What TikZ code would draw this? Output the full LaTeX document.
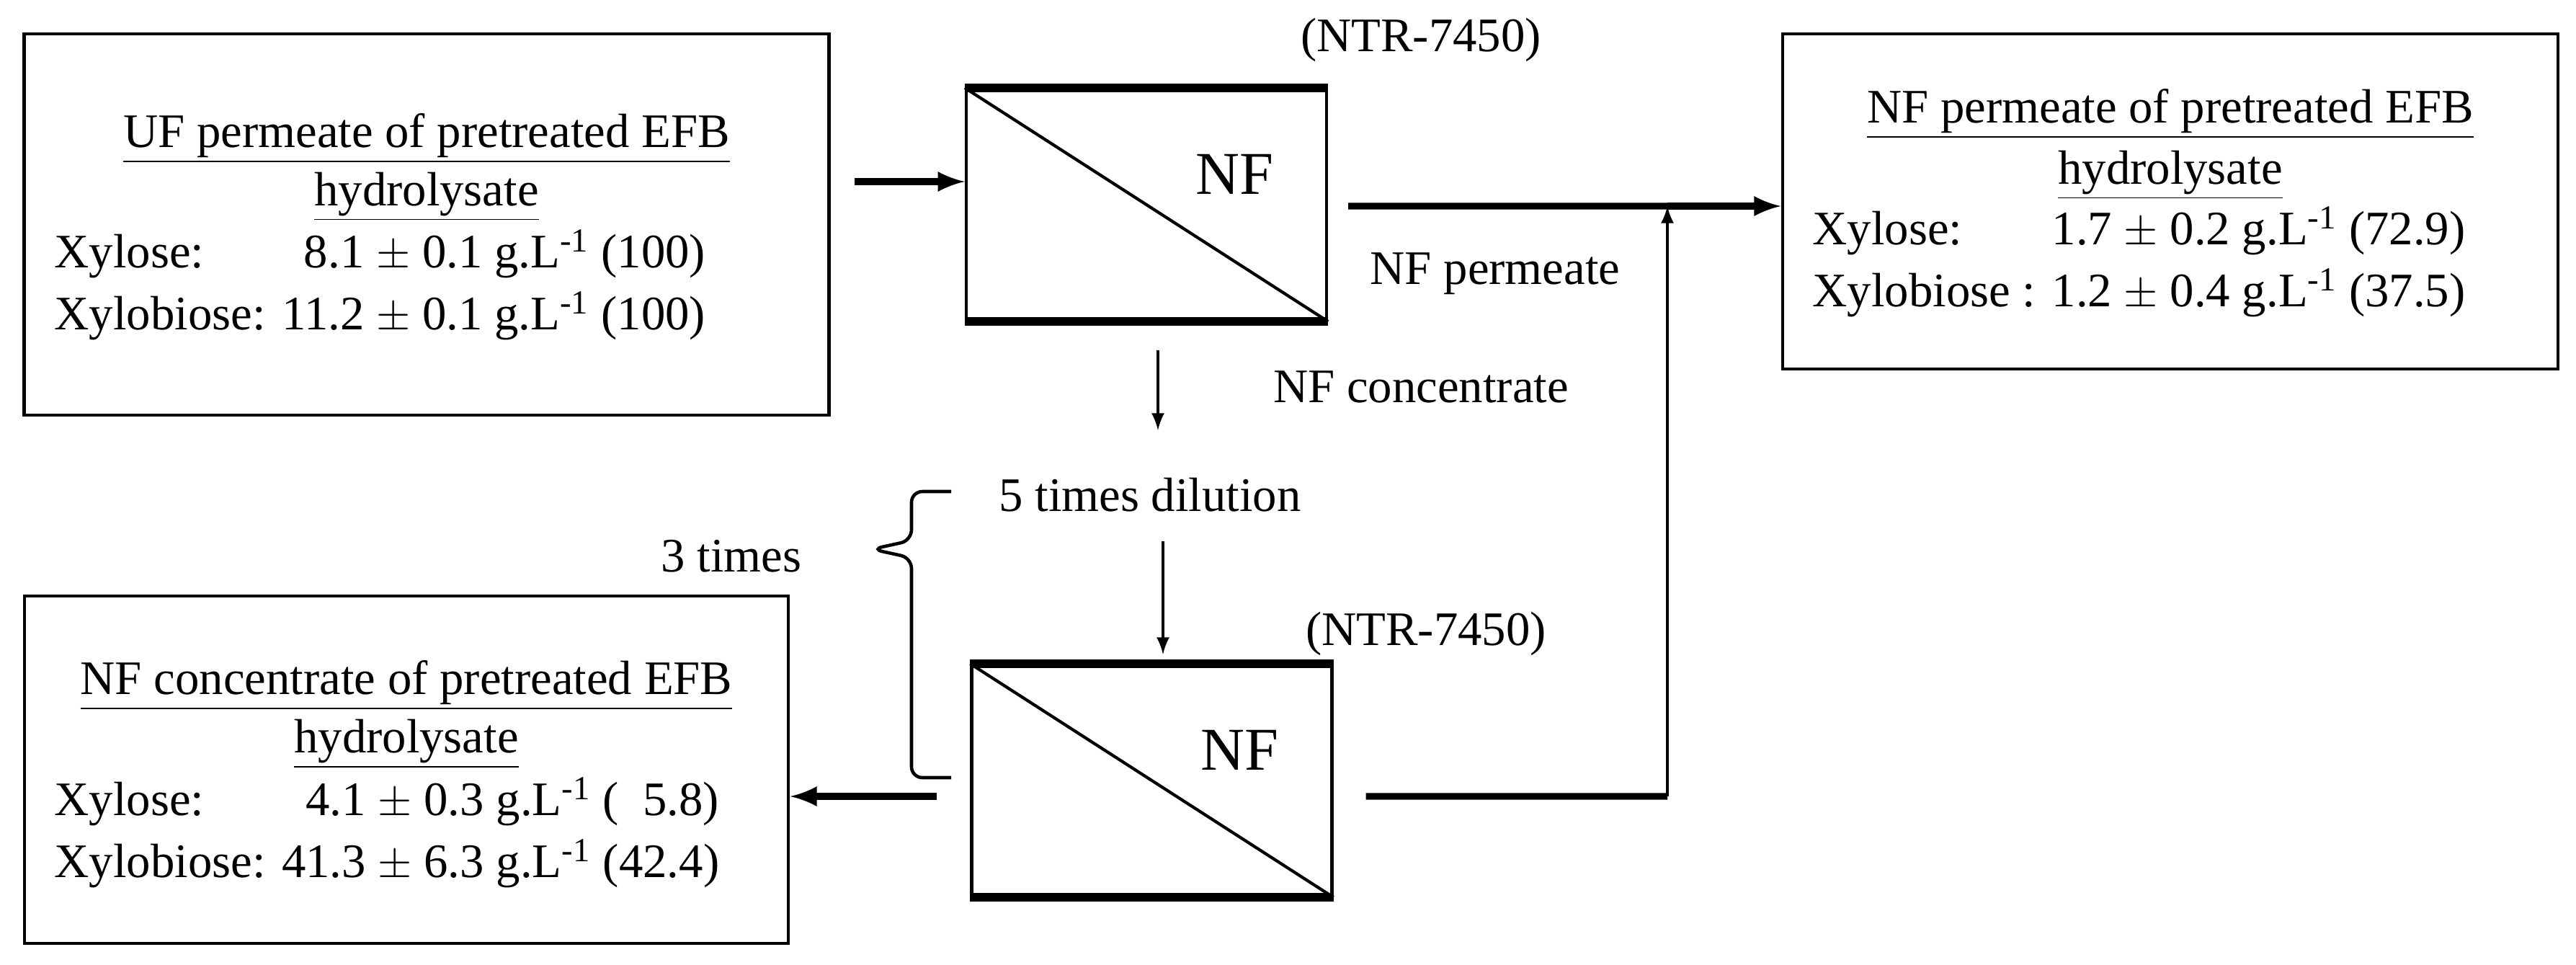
\documentclass[tikz,border=0pt]{standalone}
\usepackage{fontspec}
\setmainfont{Liberation Serif}
\usetikzlibrary{positioning}
\tikzset{
  box/.style={draw,line width=1.4pt,inner sep=0pt},
  nfbox/.style={draw,line width=1.2pt,minimum width=5cm,minimum height=3.2cm,inner sep=0pt},
  txt/.style={font=\fontsize{19}{23}\selectfont,inner sep=0pt},
  flow/.style={line width=2.6pt,-latex},
  thin flow/.style={line width=1.3pt,-latex},
}
\newcommand{\gl}{g.L\textsuperscript{-1}}
\begin{document}
\begin{tikzpicture}
\useasboundingbox (0,0) rectangle (35.75,-13.38);

  %% boxes
  \node[box,minimum width=11.17cm,minimum height=5.29cm] (uf) at (5.92,-3.115) {};
  \node[box,minimum width=10.76cm,minimum height=4.65cm] (perm) at (30.12,-2.795) {};
  \node[box,minimum width=10.6cm,minimum height=4.82cm] (conc) at (5.64,-10.68) {};

  %% uf box text
  \node[txt] (ufh) at (5.92,-1.92) {\underline{UF permeate of pretreated EFB}};
  \node[txt] (ufh2) at (5.92,-2.73) {\underline{hydrolysate}};
  \node[txt,anchor=west] (ufd) at (0.75,-3.985) {\begin{tabular}{@{}l@{ }r@{}}
    Xylose: & 8.1 $\pm$ 0.1 \gl{} (100)\\[0.05cm]
    Xylobiose: & 11.2 $\pm$ 0.1 \gl{} (100)\end{tabular}};

  %% permeate box text
  \node[txt] (ph) at (30.12,-1.58) {\underline{NF permeate of pretreated EFB}};
  \node[txt] (ph2) at (30.12,-2.43) {\underline{hydrolysate}};
  \node[txt,anchor=west] (pd) at (25.15,-3.665) {\begin{tabular}{@{}l@{ }r@{}}
    Xylose: & 1.7 $\pm$ 0.2 \gl{} (72.9)\\[0.05cm]
    Xylobiose & : 1.2 $\pm$ 0.4 \gl{} (37.5)\end{tabular}};

  %% concentrate box text
  \node[txt] (ch) at (5.64,-9.51) {\underline{NF concentrate of pretreated EFB}};
  \node[txt] (ch2) at (5.64,-10.32) {\underline{hydrolysate}};
  \node[txt,anchor=west] (cd) at (0.75,-11.585) {\begin{tabular}{@{}l@{ }r@{}}
    Xylose: & 4.1 $\pm$ 0.3 \gl{} (\ \ 5.8)\\[0.05cm]
    Xylobiose: & 41.3 $\pm$ 6.3 \gl{} (42.4)\end{tabular}};

  %% NF membranes
  \node[nfbox] (nf1) at (15.91,-2.84) {};
  \node[nfbox] (nf2) at (15.985,-10.83) {};
  \foreach \m in {nf1,nf2} {
    \draw[line width=3.5pt] (\m.north west) -- (\m.north east);
    \draw[line width=3.5pt] (\m.south west) -- (\m.south east);
    \draw[line width=1.2pt] (\m.north west) -- (\m.south east);
    \node[txt,font=\fontsize{24}{28}\selectfont] at ([xshift=-1.3cm,yshift=-1.2cm]\m.north east) {NF};
  }
  \node[txt] (ntr1) at (19.72,-0.55) {(NTR-7450)};
  \node[txt] (ntr2) at (19.79,-8.79) {(NTR-7450)};

  %% labels
  \node[txt] (lperm) at (20.75,-3.8) {NF permeate};
  \node[txt] (lconc) at (19.72,-5.37) {NF concentrate};
  \node[txt] (ldil) at (15.96,-6.87) {5 times dilution};
  \node[txt] (l3) at (10.15,-7.72) {3 times};

  %% connectors
  \coordinate (in) at (11.86,-2.52);
  \coordinate (j) at (23.14,-2.86);
  \coordinate (jb) at (23.14,-11.05);
  \draw[flow] (in) -- (in -| nf1.west);
  \draw[line width=2.6pt] ([xshift=0.28cm,yshift=-0.02cm]nf1.east) coordinate (p1) -- (j);
  \draw[flow] (j) -- (perm.west |- j);
  \draw[line width=2.6pt] ([xshift=0.45cm,yshift=-0.22cm]nf2.east) -- (jb);
  \draw[thin flow] (jb) -- (j);
  \draw[thin flow] (16.07,-4.86) -- (16.07,-5.97);
  \draw[thin flow] (16.14,-7.51) -- (16.14,-9.08);
  \draw[flow] (13.0,-11.05) -- (conc.east |- 13.0,-11.05);

  %% brace
  \draw[line width=1.3pt,rounded corners=0.15cm]
    (13.2,-6.82) -- (12.65,-6.82) -- (12.65,-7.5) -- (12.1,-7.62) -- (12.65,-7.74)
    -- (12.65,-10.79) -- (13.2,-10.79);
\end{tikzpicture}
\end{document}
